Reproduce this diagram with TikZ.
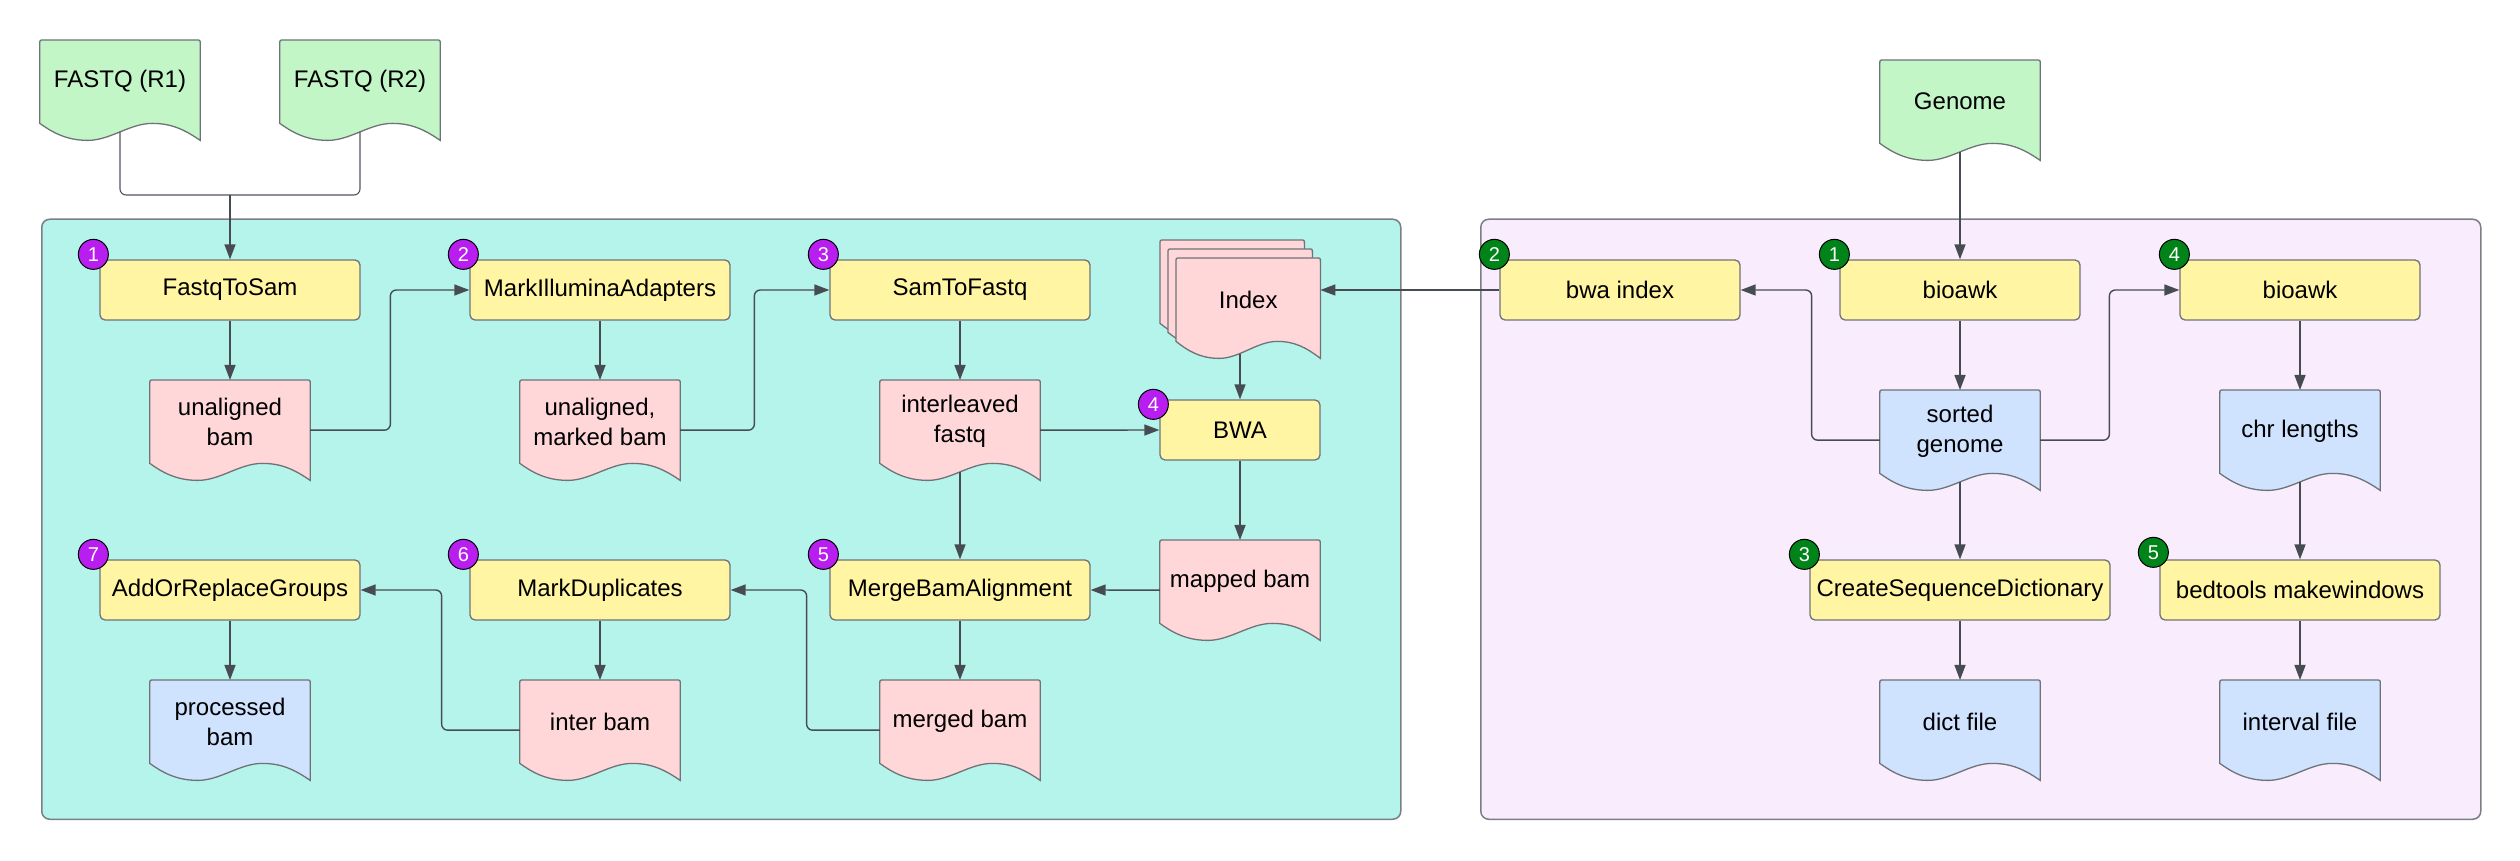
\documentclass[tikz,border=0pt]{standalone}
\usepackage{fontspec}
\setmainfont{Liberation Sans}
\usetikzlibrary{arrows.meta,calc,backgrounds}
\definecolor{procfill}{HTML}{FFF5A2}
\definecolor{pinkdoc}{HTML}{FFD7D9}
\definecolor{bluedoc}{HTML}{CFE3FF}
\definecolor{greendoc}{HTML}{C3F6C7}
\definecolor{cyanpanel}{HTML}{B5F4EA}
\definecolor{lavpanel}{HTML}{F9EDFD}
\definecolor{badgepurple}{HTML}{B91EF0}
\definecolor{badgegreen}{HTML}{00841A}
\definecolor{boxline}{HTML}{6F7378}
\definecolor{panelline}{HTML}{7B7F85}
\definecolor{connc}{HTML}{474B52}
\definecolor{lightconn}{HTML}{50555D}
\pgfdeclarelayer{docs}
\pgfsetlayers{background,docs,main}
\tikzset{
  proc/.style={draw=boxline, fill=procfill, rounded corners=5pt, line width=1.3pt,
    minimum height=60pt, inner sep=2pt, font=\fontsize{24}{30}\selectfont},
  docnode/.style={minimum width=160pt, minimum height=83pt, anchor=north, inner sep=0pt,
    align=center, font=\fontsize{24}{30}\selectfont},
  docline/.style={draw=boxline, line width=1.3pt},
  conn/.style={draw=connc, line width=1.4pt, rounded corners=6pt},
  thinconn/.style={draw=lightconn, line width=1.1pt, rounded corners=6pt},
  arr/.style={conn, -{Triangle[length=15pt,width=11pt]}},
  badgebase/.style={circle, draw=black, line width=1pt, text=white, minimum size=30pt,
    inner sep=0pt, font=\fontsize{20}{20}\selectfont},
  badgep/.style={badgebase, fill=badgepurple},
  badgeg/.style={badgebase, fill=badgegreen},
  panel/.style={draw=panelline, line width=1.5pt, rounded corners=8pt, anchor=south west},
}
% #1 name, #2 fill, #3 width
\newcommand\docshape[3]{%
  \draw[docline, fill=#2]
    ([yshift=-4pt]#1.north west) .. controls (#1.north west) .. ([xshift=4pt]#1.north west)
    -- ([xshift=-4pt]#1.north east) .. controls (#1.north east) .. ([yshift=-4pt]#1.north east)
    -- ([yshift=-17pt]#1.south east)
    .. controls ([xshift={-0.1*#3}, yshift=-6pt]#1.south east) and ([xshift={-0.18*#3}]#1.south east)
    .. ([xshift={-0.3*#3}]#1.south east)
    .. controls ([xshift={-0.44*#3}]#1.south east) and ([xshift={0.44*#3}, yshift=-17pt]#1.south west)
    .. ([xshift={0.3*#3}, yshift=-17pt]#1.south west)
    .. controls ([xshift={0.16*#3}, yshift=-17pt]#1.south west) and ([xshift={0.07*#3}, yshift=-8pt]#1.south west)
    .. (#1.south west) -- cycle;}
% #1 name, #2 x, #3 y (top), #4 fill, #5 width, #6 text
\newcommand\mydoc[6]{%
  \node[docnode, minimum width=#5pt] (#1) at (#2,#3) {#6};
  \begin{pgfonlayer}{docs}\docshape{#1}{#4}{#5}\end{pgfonlayer}}

\begin{document}
\begin{tikzpicture}[x=1pt, y=1pt]
\useasboundingbox (0,0) rectangle (2520,860);

% panels
\begin{pgfonlayer}{background}
\node[panel, fill=cyanpanel, minimum width=1359pt, minimum height=600pt] (lpanel) at (41,40) {};
\node[panel, fill=lavpanel, minimum width=1000pt, minimum height=600pt] (rpanel) at (1480,40) {};
\end{pgfonlayer}

% inputs
\mydoc{r1}{120}{820}{greendoc}{160}{FASTQ (R1)}
\mydoc{r2}{360}{820}{greendoc}{160}{FASTQ (R2)}
\mydoc{gen}{1960}{800}{greendoc}{160}{Genome}

% left panel processes
\node[proc, minimum width=260pt] (fts) at (230,570) {FastqToSam};
\node[proc, minimum width=260pt] (mia) at (600,570) {MarkIlluminaAdapters};
\node[proc, minimum width=260pt] (stf) at (960,570) {SamToFastq};
\node[proc, minimum width=160pt] (bwa) at (1240,430) {BWA};
\node[proc, minimum width=260pt] (mba) at (960,270) {MergeBamAlignment};
\node[proc, minimum width=260pt] (md) at (600,270) {MarkDuplicates};
\node[proc, minimum width=260pt] (arg) at (230,270) {AddOrReplaceGroups};

% left panel documents
\mydoc{ub}{230}{480}{pinkdoc}{160}{unaligned\\bam}
\mydoc{umb}{600}{480}{pinkdoc}{160}{unaligned,\\marked bam}
\mydoc{il}{960}{480}{pinkdoc}{160}{interleaved\\fastq}
\mydoc{mb}{1240}{320}{pinkdoc}{160}{mapped bam}
\mydoc{pb}{230}{180}{bluedoc}{160}{processed\\bam}
\mydoc{ib}{600}{180}{pinkdoc}{160}{inter bam}
\mydoc{mg}{960}{180}{pinkdoc}{160}{merged bam}

% index stack
\node[docnode, minimum width=144pt, anchor=north west] (idxb) at (1160,620) {};
\begin{pgfonlayer}{docs}\docshape{idxb}{pinkdoc}{144}\end{pgfonlayer}
\node[docnode, minimum width=144pt, anchor=north west] (idxm) at (1168,611) {};
\begin{pgfonlayer}{docs}\docshape{idxm}{pinkdoc}{144}\end{pgfonlayer}
\node[docnode, minimum width=144pt, anchor=north west] (idx) at (1176,602) {Index};
\begin{pgfonlayer}{docs}\docshape{idx}{pinkdoc}{144}\end{pgfonlayer}
\coordinate (idxout) at (1240,506);

% right panel
\node[proc, minimum width=240pt] (bwai) at (1620,570) {bwa index};
\node[proc, minimum width=240pt] (ba1) at (1960,570) {bioawk};
\node[proc, minimum width=240pt] (ba4) at (2300,570) {bioawk};
\node[proc, minimum width=300pt] (csd) at (1960,270) {CreateSequenceDictionary};
\node[proc, minimum width=280pt] (bt) at (2300,270) {bedtools makewindows};
\mydoc{sg}{1960}{470}{bluedoc}{160}{sorted\\genome}
\mydoc{chr}{2300}{470}{bluedoc}{160}{chr lengths}
\mydoc{dict}{1960}{180}{bluedoc}{160}{dict file}
\mydoc{intv}{2300}{180}{bluedoc}{160}{interval file}

% badges
\node[badgep] (p1) at ([xshift=-6pt,yshift=5pt]fts.north west) {1};
\node[badgep] (p2) at ([xshift=-6pt,yshift=5pt]mia.north west) {2};
\node[badgep] (p3) at ([xshift=-6pt,yshift=5pt]stf.north west) {3};
\node[badgep] (p4) at ([xshift=-6pt,yshift=-5pt]bwa.north west) {4};
\node[badgep] (p5) at ([xshift=-6pt,yshift=5pt]mba.north west) {5};
\node[badgep] (p6) at ([xshift=-6pt,yshift=5pt]md.north west) {6};
\node[badgep] (p7) at ([xshift=-6pt,yshift=5pt]arg.north west) {7};
\node[badgeg] (g1) at ([xshift=-5pt,yshift=5pt]ba1.north west) {1};
\node[badgeg] (g2) at ([xshift=-5pt,yshift=5pt]bwai.north west) {2};
\node[badgeg] (g3) at ([xshift=-5pt,yshift=5pt]csd.north west) {3};
\node[badgeg] (g4) at ([xshift=-5pt,yshift=5pt]ba4.north west) {4};
\node[badgeg] (g5) at ([xshift=-6pt,yshift=7pt]bt.north west) {5};

% connectors left
\coordinate (fqj) at (230,665);
\draw[thinconn] ([yshift=-8.5pt]r1.south) |- (fqj);
\draw[thinconn] ([yshift=-8.5pt]r2.south) |- (fqj);
\draw[arr] (fqj) -- (fts.north);
\draw[arr] (fts.south) -- (ub.north);
\draw[arr] ([yshift=-8.5pt]ub.east) -| ($(mia.west)+(-79,0)$) -- (mia.west);
\draw[arr] (mia.south) -- (umb.north);
\draw[arr] ([yshift=-8.5pt]umb.east) -| ($(stf.west)+(-75,0)$) -- (stf.west);
\draw[arr] (stf.south) -- (il.north);
\draw[arr] ([yshift=-8.5pt]il.east) -- (bwa.west);
\draw[arr] (idxout) -- (bwa.north);
\draw[arr] ([yshift=-8.5pt]il.south) -- (mba.north);
\draw[arr] (bwa.south) -- (mb.north);
\draw[arr] ([yshift=-8.5pt]mb.west) -- (mba.east);
\draw[arr] (mba.south) -- (mg.north);
\draw[arr] ([yshift=-8.5pt]mg.west) -| ($(md.east)+(76,0)$) -- (md.east);
\draw[arr] (md.south) -- (ib.north);
\draw[arr] ([yshift=-8.5pt]ib.west) -| ($(arg.east)+(81,0)$) -- (arg.east);
\draw[arr] (arg.south) -- (pb.north);

% connectors right
\draw[arr] (bwai.west) -- (bwai.west -| idx.east);
\draw[arr] ([yshift=-8.5pt]gen.south) -- (ba1.north);
\draw[arr] (ba1.south) -- (sg.north);
\draw[arr] ([yshift=-8.5pt]sg.west) -| ($(bwai.east)+(71,0)$) -- (bwai.east);
\draw[arr] ([yshift=-8.5pt]sg.east) -| ($(ba4.west)+(-70,0)$) -- (ba4.west);
\draw[arr] (ba4.south) -- (chr.north);
\draw[arr] ([yshift=-8.5pt]sg.south) -- (csd.north);
\draw[arr] ([yshift=-8.5pt]chr.south) -- (bt.north);
\draw[arr] (csd.south) -- (dict.north);
\draw[arr] (bt.south) -- (intv.north);
\end{tikzpicture}
\end{document}
